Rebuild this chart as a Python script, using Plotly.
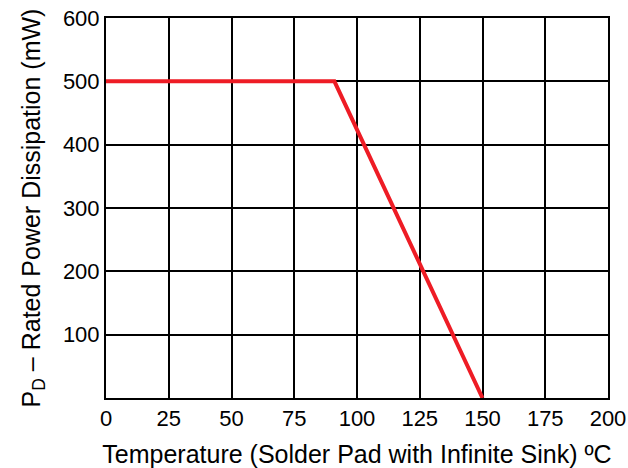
import plotly.graph_objects as go

temperature = [0, 91, 150]
power_mw = [500, 500, 0]
x_ticks = [0, 25, 50, 75, 100, 125, 150, 175, 200]
y_ticks = [100, 200, 300, 400, 500, 600]

fig = go.Figure()
fig.add_trace(go.Scatter(x=temperature, y=power_mw, mode="lines",
                         line=dict(color="#EE1C25", width=4), showlegend=False))

tick_font = dict(family="Liberation Sans, Arial, sans-serif", size=22, color="black")
title_font = dict(family="Liberation Sans, Arial, sans-serif", size=25, color="black")
fig.update_layout(
    width=628, height=468,
    margin=dict(l=106, r=20, t=18, b=70, autoexpand=False),
    paper_bgcolor="white", plot_bgcolor="white",
    font=tick_font,
    xaxis=dict(range=[0, 200], tickvals=x_ticks, showgrid=True, gridcolor="black", gridwidth=1.5,
               showline=True, linecolor="black", linewidth=2, mirror=True, zeroline=False,
               ticks="", ticklen=0, tickfont=tick_font, automargin=False,
               title=dict(text="Temperature (Solder Pad with Infinite Sink) ºC", font=title_font)),
    yaxis=dict(range=[0, 600], tickvals=y_ticks, showgrid=True, gridcolor="black", gridwidth=1.5,
               showline=True, linecolor="black", linewidth=2, mirror=True, zeroline=False,
               ticks="", tickfont=tick_font, automargin=False,
               title=dict(text="P<sub>D</sub> – Rated Power Dissipation (mW)", font=title_font)),
)
fig.write_html("out.html", config={"displayModeBar": False},
               post_script="document.body.style.margin='0';document.body.style.overflow='hidden';")
